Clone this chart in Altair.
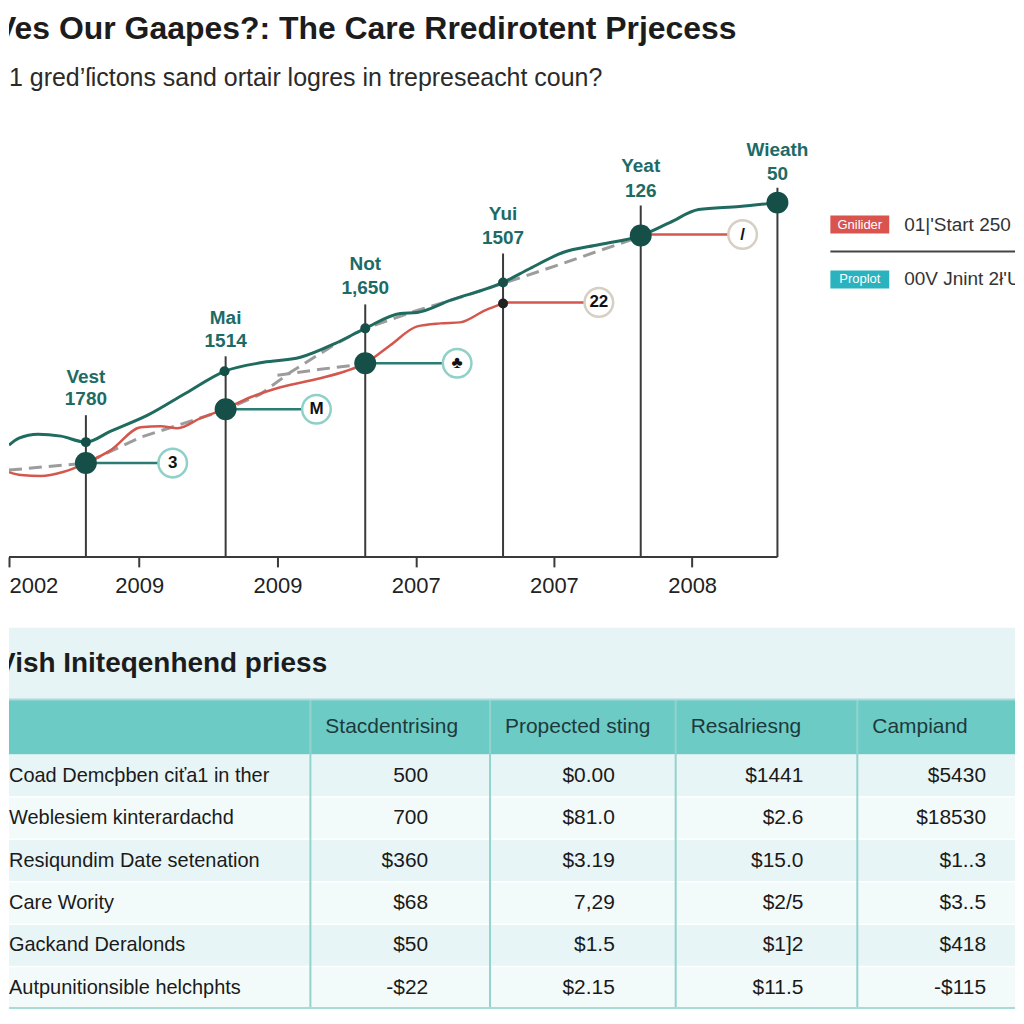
import altair as alt
import pandas as pd

# ---------------- text ----------------
TITLE = "Ves Our Gaapes?: The Care Rredirotent Prjecess"
SUBTITLE = "1 gred\u2019\u017fictons sand ortair logres in trepreseacht coun?"
TABLE_TITLE = "Vish Initeqenhend priess"

# ---------------- line chart data (x in tick-index units, y in value units) ----------------
x_tick_values = [0, 1, 2, 3, 4, 5]
x_tick_labels = ["2002", "2009", "2009", "2007", "2007", "2008"]

teal_x = [0, 0.13, 0.267, 0.433, 0.614, 0.794, 1.061, 1.336, 1.617, 1.899, 2.166, 2.419, 2.635,
          2.888, 3.011, 3.249, 3.632, 3.827, 4.065, 4.332, 4.628, 4.838, 5.047, 5.343, 5.617]
teal_y = [112, 119, 123, 121, 115, 126, 142, 164, 186, 195, 200, 214, 229,
          244, 245, 257, 275, 289, 305, 313, 322, 335, 348, 351, 355]

red_x = [0, 0.144, 0.289, 0.448, 0.614, 0.794, 1.011, 1.155, 1.278, 1.444, 1.617, 1.805, 2.022,
         2.310, 2.491, 2.635, 2.816, 3.011, 3.177, 3.321, 3.502, 3.632]
red_y = [85, 82, 81, 85, 94, 107, 130, 131, 129, 139, 148, 160, 170,
         179, 186, 194, 212, 231, 234, 235, 247, 254]

trend_x = [0, 0.614, 1.011, 1.617, 1.877, 2.094, 2.404, 2.635, 3.011, 3.321, 3.632, 4.043, 4.332, 4.628]
trend_y = [87, 94, 120, 147, 163, 185, 212, 229, 247, 260, 274, 293, 307, 321]
branch_x = [2.0, 2.310, 2.549]
branch_y = [182, 188, 192]

marker_x = [0.614, 1.625, 2.635, 3.632, 4.628, 5.617]
marker_top = [142, 201, 253, 304, 352, 370]
marker_name = ["Vest", "Mai", "Not", "Yui", "Yeat", "Wieath"]
marker_value = ["1780", "1514", "1,650", "1507", "126", "50"]
marker_name_y = [180, 239, 293, 344, 392, 408]
marker_value_y = [158, 216, 269, 320, 367, 384]

small_dot_x = [0.614, 1.617, 2.635, 3.632, 3.632]
small_dot_y = [115, 186, 229, 275, 254]
small_dot_kind = ["teal", "teal", "teal", "teal", "red"]

big_dot_x = [0.614, 1.625, 2.635, 4.628, 5.617]
big_dot_y = [94, 148, 194, 322, 355]

callout_from = [0.614, 1.625, 2.635, 3.632, 4.628]
callout_to = [1.242, 2.282, 3.300, 4.325, 5.365]
callout_y = [94, 148, 194, 255, 323]
callout_text = ["3", "M", "\u2663", "22", "/"]
callout_kind = ["teal", "teal", "teal", "red", "red"]

legend_swatch = ["Gnilider", "Proplot"]
legend_label = ["01|'Start 250", "00V Jnint 2\u0142'Ua"]
legend_kind = ["red", "cyan"]

# ---------------- table data ----------------
table_header = ["Stacdentrising", "Propected sting", "Resalriesng", "Campiand"]
row_labels = ["Coad Demc\u00feben ci\u0165a1 in ther", "Weblesiem kinterardachd",
              "Resiqundim Date setenation", "Care Wority", "Gackand Deralonds",
              "Autpunitionsible helchphts"]
col1 = ["500", "700", "$360", "$68", "$50", "-$22"]
col2 = ["$0.00", "$81.0", "$3.19", "7,29", "$1.5", "$2.15"]
col3 = ["$1441", "$2.6", "$15.0", "$2/5", "$1]2", "$11.5"]
col4 = ["$5430", "$18530", "$1..3", "$3..5", "$418", "-$115"]

# ---------------- styling / layout ----------------
FONT = "Liberation Sans, Arial, sans-serif"
TEAL = "#1f6b5f"
DOT = "#154f48"
RED = "#d4574e"
GRAY = "#9c9c9c"
ANNOT = "#1d6b66"
INK = "#3a3a3a"

PX_PER_T = 138.5
LINE_W, LINE_H = 1008, 447
T_MIN = 8 / PX_PER_T
T_MAX = T_MIN + LINE_W / PX_PER_T

xs = alt.Scale(domain=[T_MIN, T_MAX], clamp=True, nice=False, zero=False)
ys = alt.Scale(domain=[0, LINE_H], nice=False, zero=False)
label_expr = "[" + ",".join("'%s'" % s for s in x_tick_labels) + "][datum.value]"
xaxis = alt.Axis(values=x_tick_values, labelExpr=label_expr, domain=False, grid=False,
                 ticks=True, tickSize=10, tickWidth=2, tickColor=INK, labelFontSize=22,
                 labelFont=FONT, labelColor="#222222", labelPadding=9, labelFlush=True,
                 title=None)


def X(f):
    return alt.X(f, scale=xs, axis=xaxis, title=None)


def Y(f):
    return alt.Y(f, scale=ys, axis=None, title=None)


series = pd.concat([
    pd.DataFrame({"t": teal_x, "v": teal_y, "s": "teal", "o": range(len(teal_x))}),
    pd.DataFrame({"t": red_x, "v": red_y, "s": "red", "o": range(len(red_x))}),
    pd.DataFrame({"t": trend_x, "v": trend_y, "s": "trend", "o": range(len(trend_x))}),
    pd.DataFrame({"t": branch_x, "v": branch_y, "s": "branch", "o": range(len(branch_x))}),
])

base = alt.Chart(series)
trend_l = base.transform_filter("datum.s == 'trend' || datum.s == 'branch'").mark_line(
    color=GRAY, strokeWidth=3, strokeDash=[13, 7], clip=True).encode(
    x=X("t:Q"), y=Y("v:Q"), detail="s:N", order="o:Q")
red_l = base.transform_filter("datum.s == 'red'").mark_line(
    color=RED, strokeWidth=2.5, interpolate="monotone", clip=True).encode(
    x=X("t:Q"), y=Y("v:Q"), order="o:Q")
teal_l = base.transform_filter("datum.s == 'teal'").mark_line(
    color=TEAL, strokeWidth=3, interpolate="monotone", clip=True).encode(
    x=X("t:Q"), y=Y("v:Q"), order="o:Q")

markers = pd.DataFrame({"t": marker_x, "top": marker_top, "name": marker_name,
                        "val": marker_value, "ny": marker_name_y, "vy": marker_value_y,
                        "zero": 0})
rules = alt.Chart(markers).mark_rule(color=INK, strokeWidth=2).encode(
    x=X("t:Q"), y=Y("zero:Q"), y2="top:Q")
names = alt.Chart(markers).mark_text(font=FONT, fontSize=19, fontWeight="bold",
                                     color=ANNOT, baseline="middle").encode(
    x=X("t:Q"), y=Y("ny:Q"), text="name:N")
vals = alt.Chart(markers).mark_text(font=FONT, fontSize=19, fontWeight="bold",
                                    color=ANNOT, baseline="middle").encode(
    x=X("t:Q"), y=Y("vy:Q"), text="val:N")

baseline_df = pd.DataFrame({"t0": [0], "t1": [marker_x[-1]], "v": [0]})
base_rule = alt.Chart(baseline_df).mark_rule(color=INK, strokeWidth=2).encode(
    x=X("t0:Q"), x2="t1:Q", y=Y("v:Q"))

callouts = pd.DataFrame({"t0": callout_from, "t1": callout_to, "v": callout_y,
                         "txt": callout_text, "kind": callout_kind})
cbase = alt.Chart(callouts)
call_lines_t = cbase.transform_filter("datum.kind == 'teal'").mark_rule(
    strokeWidth=2.5, color="#2a7c74").encode(x=X("t0:Q"), x2="t1:Q", y=Y("v:Q"))
call_lines_r = cbase.transform_filter("datum.kind == 'red'").mark_rule(
    strokeWidth=2.5, color=RED).encode(x=X("t0:Q"), x2="t1:Q", y=Y("v:Q"))
call_circ_t = cbase.transform_filter("datum.kind == 'teal'").mark_circle(
    fill="white", stroke="#8fd0c9", size=820, strokeWidth=2.5, opacity=1).encode(
    x=X("t1:Q"), y=Y("v:Q"))
call_circ_r = cbase.transform_filter("datum.kind == 'red'").mark_circle(
    fill="white", stroke="#d6cfc2", size=820, strokeWidth=2.5, opacity=1).encode(
    x=X("t1:Q"), y=Y("v:Q"))
call_text = cbase.mark_text(font=FONT, fontSize=17, fontWeight="bold",
                            color="#111111", baseline="middle").encode(
    x=X("t1:Q"), y=Y("v:Q"), text="txt:N")

small = pd.DataFrame({"t": small_dot_x, "v": small_dot_y, "kind": small_dot_kind})
small_dots_t = alt.Chart(small).transform_filter("datum.kind == 'teal'").mark_circle(
    size=100, opacity=1, color=DOT).encode(x=X("t:Q"), y=Y("v:Q"))
small_dots_r = alt.Chart(small).transform_filter("datum.kind == 'red'").mark_circle(
    size=100, opacity=1, color="#222222").encode(x=X("t:Q"), y=Y("v:Q"))
big = pd.DataFrame({"t": big_dot_x, "v": big_dot_y})
big_dots = alt.Chart(big).mark_circle(size=484, opacity=1, color=DOT).encode(
    x=X("t:Q"), y=Y("v:Q"))

# legend (drawn in the right part of the same panel)
LEG_X = 823
leg = pd.DataFrame({"i": [0, 1], "swatch": legend_swatch, "label": legend_label,
                    "kind": legend_kind})
leg_base = alt.Chart(leg).transform_calculate(
    yc="114 + 55 * datum.i", y0="105 + 55 * datum.i", y1="123 + 55 * datum.i")
lscale = alt.Scale(domain=[0, LINE_H], reverse=True, nice=False, zero=False)
leg_rect = leg_base.mark_rect().encode(
    x=alt.value(LEG_X), x2=alt.value(LEG_X + 59),
    y=alt.Y("y0:Q", scale=lscale, axis=None), y2="y1:Q",
    color=alt.Color("kind:N", scale=alt.Scale(domain=["red", "cyan"],
                                              range=["#d9534f", "#2ab3bf"]), legend=None))
leg_sw = leg_base.mark_text(font=FONT, fontSize=13, color="white", baseline="middle").encode(
    x=alt.value(LEG_X + 29.5), y=alt.Y("yc:Q", scale=lscale, axis=None), text="swatch:N")
leg_lab = leg_base.mark_text(font=FONT, fontSize=19, color="#333333", align="left",
                             baseline="middle", clip=True).encode(
    x=alt.value(LEG_X + 74), y=alt.Y("yc:Q", scale=lscale, axis=None), text="label:N")
leg_sep = alt.Chart(pd.DataFrame({"a": [0]})).mark_rule(color="#444444", strokeWidth=2).encode(
    x=alt.value(LEG_X), x2=alt.value(LINE_W), y=alt.value(141))

line_chart = alt.layer(
    rules, base_rule, trend_l, red_l, teal_l, call_lines_t, call_lines_r, call_circ_t,
    call_circ_r, call_text, small_dots_t, small_dots_r, big_dots, names, vals,
    leg_rect, leg_sep, leg_sw, leg_lab
).resolve_scale(y="independent", color="independent").properties(width=LINE_W, height=LINE_H)

# ---------------- header ----------------
head_df = pd.DataFrame({"text": [TITLE, SUBTITLE], "kind": ["title", "subtitle"]})
h_title = alt.Chart(head_df).transform_filter("datum.kind == 'title'").mark_text(
    font=FONT, fontSize=32, fontWeight="bold", color="#1c1c1c", align="left",
    baseline="alphabetic", clip=True).encode(text="text:N", x=alt.value(-14), y=alt.value(30))
h_sub = alt.Chart(head_df).transform_filter("datum.kind == 'subtitle'").mark_text(
    font=FONT, fontSize=25, color="#2a2a2a", align="left",
    baseline="alphabetic", clip=True).encode(text="text:N", x=alt.value(0), y=alt.value(77))
header = alt.layer(h_title, h_sub).properties(width=1008, height=102)

# ---------------- table ----------------
TBL_W = 1008
TOP_GAP = 71
TBL_H = TOP_GAP + 382
col_edges = [0, 302, 482, 668, 850, TBL_W]
TITLE_TOP = TOP_GAP
TITLE_BOTTOM, HEAD_BOTTOM = TOP_GAP + 72, TOP_GAP + 127
row_h = (TBL_H - HEAD_BOTTOM) / len(row_labels)

rects = [{"x": 0, "x2": TBL_W, "y": TITLE_TOP, "y2": TITLE_BOTTOM, "kind": "title"},
         {"x": 0, "x2": TBL_W, "y": TITLE_BOTTOM, "y2": HEAD_BOTTOM, "kind": "header"}]
for i in range(len(row_labels)):
    rects.append({"x": 0, "x2": TBL_W, "y": HEAD_BOTTOM + i * row_h,
                  "y2": HEAD_BOTTOM + (i + 1) * row_h, "kind": "odd" if i % 2 == 0 else "even"})
rect_df = pd.DataFrame(rects)

tx = alt.Scale(domain=[0, TBL_W], nice=False, zero=False)
ty = alt.Scale(domain=[0, TBL_H], reverse=True, nice=False, zero=False)
fill_scale = alt.Scale(domain=["title", "header", "odd", "even"],
                       range=["#e7f4f6", "#6dcbc6", "#e8f5f6", "#f3fafa"])

t_rects = alt.Chart(rect_df).mark_rect().encode(
    x=alt.X("x:Q", scale=tx, axis=None), x2="x2:Q",
    y=alt.Y("y:Q", scale=ty, axis=None), y2="y2:Q",
    color=alt.Color("kind:N", scale=fill_scale, legend=None))

row_lines_df = pd.DataFrame({"y": [HEAD_BOTTOM + i * row_h for i in range(1, len(row_labels))]})
t_rowlines = alt.Chart(row_lines_df).mark_rule(color="#ffffff", strokeWidth=1.5).encode(
    x=alt.value(0), x2=alt.value(TBL_W), y=alt.Y("y:Q", scale=ty, axis=None))

div_df = pd.DataFrame({"x": col_edges[1:-1], "y": TITLE_BOTTOM, "y2": TBL_H})
t_divs = alt.Chart(div_df).mark_rule(color="#93d3ce", strokeWidth=2).encode(
    x=alt.X("x:Q", scale=tx, axis=None), y=alt.Y("y:Q", scale=ty, axis=None), y2="y2:Q")

border_df = pd.DataFrame({"y": [TITLE_BOTTOM, TBL_H - 1]})
t_border = alt.Chart(border_df).mark_rule(color="#a9dcd9", strokeWidth=2).encode(
    x=alt.value(0), x2=alt.value(TBL_W), y=alt.Y("y:Q", scale=ty, axis=None))

ttitle_df = pd.DataFrame({"text": [TABLE_TITLE], "x": [-12], "y": [(TITLE_TOP + TITLE_BOTTOM) / 2]})
t_title = alt.Chart(ttitle_df).mark_text(font=FONT, fontSize=28, fontWeight="bold",
                                         color="#1c1c1c", align="left", baseline="middle",
                                         clip=True).encode(
    x=alt.X("x:Q", scale=tx, axis=None), y=alt.Y("y:Q", scale=ty, axis=None), text="text:N")

head_df2 = pd.DataFrame({"text": table_header, "x": [e + 15 for e in col_edges[1:-1]],
                         "y": (TITLE_BOTTOM + HEAD_BOTTOM) / 2})
t_head = alt.Chart(head_df2).mark_text(font=FONT, fontSize=21, color="#1d3a3b",
                                       align="left", baseline="middle").encode(
    x=alt.X("x:Q", scale=tx, axis=None), y=alt.Y("y:Q", scale=ty, axis=None), text="text:N")

lab_df = pd.DataFrame({"text": row_labels, "x": 0,
                       "y": [HEAD_BOTTOM + (i + 0.5) * row_h for i in range(len(row_labels))]})
t_labels = alt.Chart(lab_df).mark_text(font=FONT, fontSize=20, color="#1a1a1a",
                                       align="left", baseline="middle").encode(
    x=alt.X("x:Q", scale=tx, axis=None), y=alt.Y("y:Q", scale=ty, axis=None), text="text:N")

value_right = [420, 607, 796, 979]
cells = []
for j, col in enumerate([col1, col2, col3, col4]):
    for i, v in enumerate(col):
        cells.append({"text": v, "x": value_right[j], "y": HEAD_BOTTOM + (i + 0.5) * row_h})
cell_df = pd.DataFrame(cells)
t_cells = alt.Chart(cell_df).mark_text(font=FONT, fontSize=21, color="#1a1a1a",
                                       align="right", baseline="middle").encode(
    x=alt.X("x:Q", scale=tx, axis=None), y=alt.Y("y:Q", scale=ty, axis=None), text="text:N")

table = alt.layer(t_rects, t_rowlines, t_divs, t_border, t_title, t_head, t_labels,
                  t_cells).properties(width=TBL_W, height=TBL_H)

# ---------------- assemble ----------------
chart = alt.vconcat(header, line_chart, table, spacing=0, bounds="flush").properties(
    padding=0, background="white"
).configure_view(stroke=None).resolve_scale(color="independent")

chart.save("out.html", embed_options={"renderer": "svg", "actions": False})
